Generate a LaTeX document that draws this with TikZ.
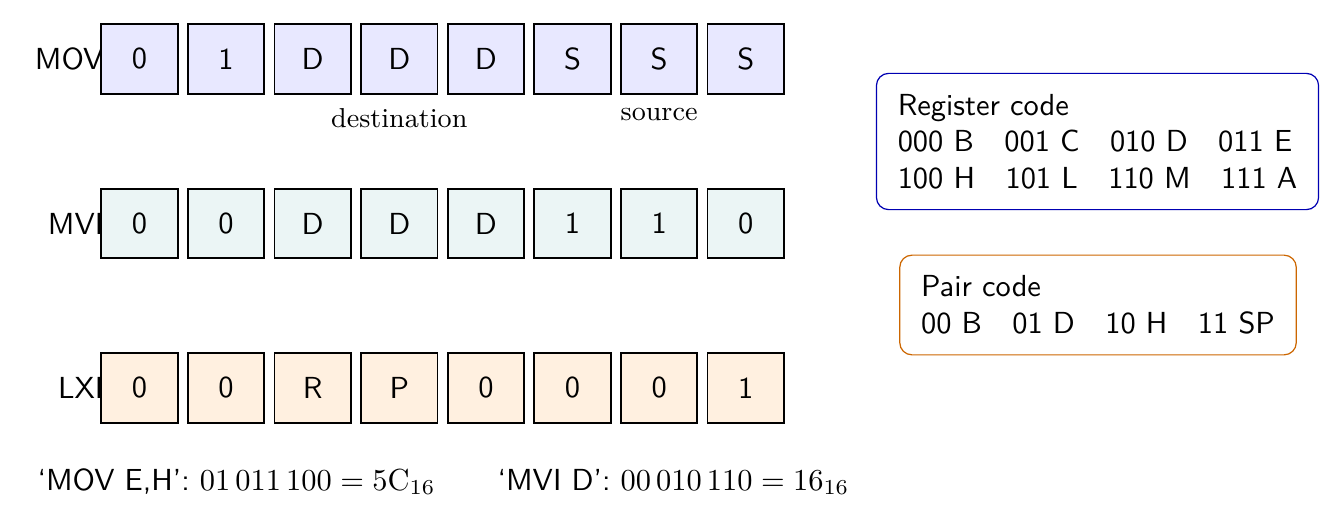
\documentclass[tikz,border=0pt]{standalone}
\usetikzlibrary{positioning}
\definecolor{movfill}{rgb}{0.91,0.91,1}
\definecolor{mvifill}{rgb}{0.92,0.96,0.96}
\definecolor{lxifill}{rgb}{1,0.94,0.88}
\definecolor{regborder}{rgb}{0,0,0.7}
\definecolor{pairborder}{rgb}{0.8,0.4,0}
\begin{document}
\begin{tikzpicture}[x=0.3285pt,y=-0.3285pt,
  bitbox/.style={draw,semithick,minimum width=25.1pt,minimum height=22.8pt,inner sep=0pt,font=\sffamily},
  rowlabel/.style={anchor=east,font=\sffamily,inner sep=0pt},
  fieldlabel/.style={below,font=\small,inner sep=3pt,yshift=-1.3pt},
  codebox/.style={draw,rounded corners=4pt,align=left,font=\sffamily,inner xsep=7pt,inner ysep=6.8pt},
  formula/.style={anchor=base west,font=\sffamily,inner sep=0pt}]
\useasboundingbox (0,0) rectangle (1344,529);

% opcode rows: label first, so that the boxes cover its tail
\node[rowlabel] (movlab) at (104,59) {MOV};
\node[rowlabel] (mvilab) at (104,223.5) {MVI};
\node[rowlabel] (lxilab) at (104,388) {LXI};

\foreach \t [count=\i] in {0,1,D,D,D,S,S,S}
  \node[bitbox,fill=movfill] (mov\i) at ({139.5+86.6*(\i-1)},59) {\t};
\foreach \t [count=\i] in {0,0,D,D,D,1,1,0}
  \node[bitbox,fill=mvifill] (mvi\i) at ({139.5+86.6*(\i-1)},223.5) {\t};
\foreach \t [count=\i] in {0,0,R,P,0,0,0,1}
  \node[bitbox,fill=lxifill] (lxi\i) at ({139.5+86.6*(\i-1)},388) {\t};

\node[fieldlabel] (dest) at (mov4.south) {destination};
\node[fieldlabel] (src) at (mov7.south) {source};

% code tables
\node[codebox,draw=regborder] (regs) at (1097.5,141.5)
  {Register code\\
   000 B\quad 001 C\quad 010 D\quad 011 E\\
   100 H\quad 101 L\quad 110 M\quad 111 A};
\node[codebox,draw=pairborder] (pairs) at (1098,305)
  {Pair code\\
   00 B\quad 01 D\quad 10 H\quad 11 SP};

% worked examples
\node[formula] (ex1) at (37,490) {‘MOV E,H’: $01\,011\,100 = 5\mathrm{C}_{16}$};
\node[formula] (ex2) at (497,490) {‘MVI D’: $00\,010\,110 = 16_{16}$};
\end{tikzpicture}
\end{document}
